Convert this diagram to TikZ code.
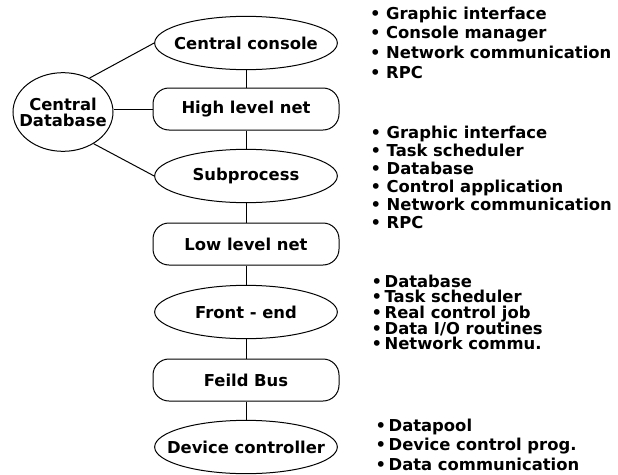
\documentclass[tikz,border=0pt]{standalone}
\usepackage{fontspec}
\setmainfont{DejaVu Sans}
\usetikzlibrary{shapes.geometric}

\begin{document}
\begin{tikzpicture}[x=0.75pt,y=0.75pt,yscale=-1,xscale=1,
  line width=0.75pt,
  every node/.style={font=\fontsize{12.3}{12}\selectfont\bfseries},
  blob/.style={draw, ellipse, minimum width=137pt, minimum height=40pt, inner xsep=-25pt, inner ysep=0pt},
  pipe/.style={draw, rounded corners=12pt, minimum width=139.5pt, minimum height=31.5pt, inner sep=0pt},
  item/.style={anchor=base west, inner sep=0pt}]
\useasboundingbox (0,0) rectangle (618,475);

%Shape: Ellipse [central database]
\node[draw, ellipse, minimum width=75pt, minimum height=59pt, inner xsep=-10pt, inner ysep=0pt, align=center] (cdb) at (63,112) {Central\\Database};

%Shape: Ellipse / Rounded Rectangle [main chain]
\node[blob] (console) at (246,43) {Central console};
\node[pipe] (high) at (246,109) {High level net};
\node[blob] (sub) at (246,176) {Subprocess};
\node[pipe] (low) at (246,244) {Low level net};
\node[blob] (front) at (246,312) {Front - end};
\node[pipe] (bus) at (246,380) {Feild Bus};
\node[blob] (device) at (246,447) {Device controller};

%Straight Lines
\draw (cdb.52) -- (console.west);
\draw (cdb.east |- high.west) -- (high.west);
\draw (cdb.-46) -- (sub.west);
\draw (console.south) -- (high.north);
\draw (high.south) -- (sub.north);
\draw (sub.south) -- (low.north);
\draw (low.south) -- (front.north);
\draw (front.south) -- (bus.north);
\draw (bus.south) -- (device.north);

% Text Node
\foreach \txt [count=\i] in {Graphic interface, Console manager, Network communication, RPC}
  \node[item] (cc-\i) at (369.5,{19+19.7*(\i-1)}) {\textbullet\ \txt};
% Text Node
\foreach \txt [count=\i] in {Graphic interface, Task scheduler, Database, Control application, Network communication, RPC}
  \node[item] (sp-\i) at (370,{138+18*(\i-1)}) {\textbullet\ \txt};
% Text Node
\foreach \txt [count=\i] in {Database, Task scheduler, Real control job, Data I/O routines, Network commu.}
  \node[item] (fe-\i) at (371,{287+15.7*(\i-1)}) {\textbullet\hspace{2pt}\txt};
% Text Node
\foreach \txt [count=\i] in {Datapool, Device control prog., Data communication}
  \node[item] (dc-\i) at (375,{431+19.5*(\i-1)}) {\textbullet\hspace{2pt}\txt};

\end{tikzpicture}
\end{document}
